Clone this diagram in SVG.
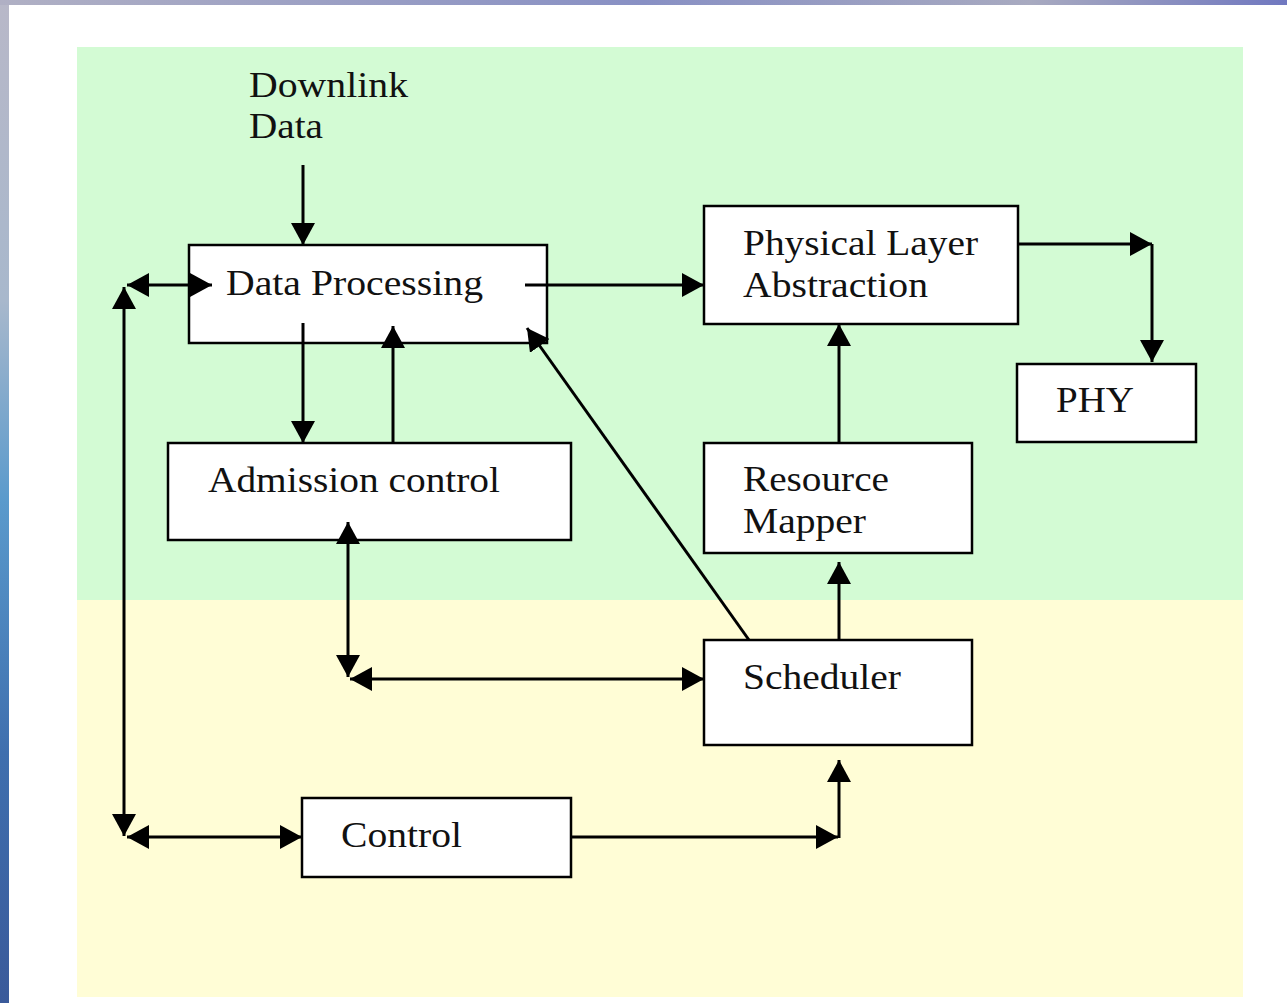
<svg xmlns="http://www.w3.org/2000/svg" width="1287" height="1003" viewBox="0 0 1287 1003">
<defs>
<linearGradient id="gLeft" x1="0" y1="0" x2="0" y2="1">
<stop offset="0" stop-color="#b8b8c8"/>
<stop offset="0.3" stop-color="#a8b8cc"/>
<stop offset="0.5" stop-color="#5a9acc"/>
<stop offset="0.75" stop-color="#3f6fae"/>
<stop offset="1" stop-color="#3a5a9a"/>
</linearGradient>
<linearGradient id="gTop" x1="0" y1="0" x2="1" y2="0">
<stop offset="0" stop-color="#b0b0c4"/>
<stop offset="0.5" stop-color="#8890c4"/>
<stop offset="0.8" stop-color="#a8aac0"/>
<stop offset="1" stop-color="#7078c0"/>
</linearGradient>
<marker id="ah" viewBox="0 0 22 24" markerUnits="userSpaceOnUse" markerWidth="22" markerHeight="24" refX="22" refY="12" orient="auto-start-reverse">
<path d="M0,0 L22,12 L0,24 z" fill="#000"/>
</marker>
<style>
.box{fill:#fff;stroke:#000;stroke-width:2.5}
.lbl{font-family:"Liberation Serif","Times New Roman",serif;font-size:35px;fill:#111}
.c{fill:none;stroke:#000;stroke-width:3}
</style>
</defs>
<rect x="0" y="0" width="1287" height="1003" fill="#fff"/>
<rect x="0" y="0" width="9" height="1003" fill="url(#gLeft)"/>
<rect x="0" y="0" width="1287" height="5" fill="url(#gTop)"/>
<rect x="77" y="47" width="1166" height="553" fill="#d3fbd4"/>
<rect x="77" y="600" width="1166" height="397" fill="#fffdd6"/>

<g id="downlink-label">
<text class="lbl" x="249" y="97" textLength="159" lengthAdjust="spacingAndGlyphs">Downlink</text>
<text class="lbl" x="249" y="138" textLength="74" lengthAdjust="spacingAndGlyphs">Data</text>
</g>
<g id="data-processing">
<rect class="box" x="189" y="245" width="358" height="98"/>
<text class="lbl" x="226" y="295" textLength="257" lengthAdjust="spacingAndGlyphs">Data Processing</text>
</g>
<g id="physical-layer-abstraction">
<rect class="box" x="704" y="206" width="314" height="118"/>
<text class="lbl" x="743" y="255" textLength="235" lengthAdjust="spacingAndGlyphs">Physical Layer</text>
<text class="lbl" x="743" y="297" textLength="185" lengthAdjust="spacingAndGlyphs">Abstraction</text>
</g>
<g id="phy">
<rect class="box" x="1017" y="364" width="179" height="78"/>
<text class="lbl" x="1056" y="412" textLength="78" lengthAdjust="spacingAndGlyphs">PHY</text>
</g>
<g id="admission-control">
<rect class="box" x="168" y="443" width="403" height="97"/>
<text class="lbl" x="208" y="492" textLength="292" lengthAdjust="spacingAndGlyphs">Admission control</text>
</g>
<g id="resource-mapper">
<rect class="box" x="704" y="443" width="268" height="110"/>
<text class="lbl" x="743" y="491" textLength="146" lengthAdjust="spacingAndGlyphs">Resource</text>
<text class="lbl" x="743" y="533" textLength="123" lengthAdjust="spacingAndGlyphs">Mapper</text>
</g>
<g id="scheduler">
<rect class="box" x="704" y="640" width="268" height="105"/>
<text class="lbl" x="743" y="689" textLength="158" lengthAdjust="spacingAndGlyphs">Scheduler</text>
</g>
<g id="control">
<rect class="box" x="302" y="798" width="269" height="79"/>
<text class="lbl" x="341" y="847" textLength="121" lengthAdjust="spacingAndGlyphs">Control</text>
</g>

<g id="connectors">
<path class="c" d="M303,165 L303,245" marker-end="url(#ah)"/>
<path class="c" d="M124,287 L124,836" marker-start="url(#ah)" marker-end="url(#ah)"/>
<path class="c" d="M127,285 L212,285" marker-start="url(#ah)" marker-end="url(#ah)"/>
<path class="c" d="M525,285 L704,285" marker-end="url(#ah)"/>
<path class="c" d="M1018,244 L1152,244" marker-end="url(#ah)"/>
<path class="c" d="M1152,244 L1152,362" marker-end="url(#ah)"/>
<path class="c" d="M303,323 L303,443" marker-end="url(#ah)"/>
<path class="c" d="M393,443 L393,326" marker-end="url(#ah)"/>
<path class="c" d="M348,522 L348,677" marker-start="url(#ah)" marker-end="url(#ah)"/>
<path class="c" d="M350,679 L704,679" marker-start="url(#ah)" marker-end="url(#ah)"/>
<path class="c" d="M749,640 L527,328" marker-end="url(#ah)"/>
<path class="c" d="M839,640 L839,562" marker-end="url(#ah)"/>
<path class="c" d="M839,443 L839,324" marker-end="url(#ah)"/>
<path class="c" d="M571,837 L838,837" marker-end="url(#ah)"/>
<path class="c" d="M839,838 L839,760" marker-end="url(#ah)"/>
<path class="c" d="M127,837 L302,837" marker-start="url(#ah)" marker-end="url(#ah)"/>
</g>
</svg>
